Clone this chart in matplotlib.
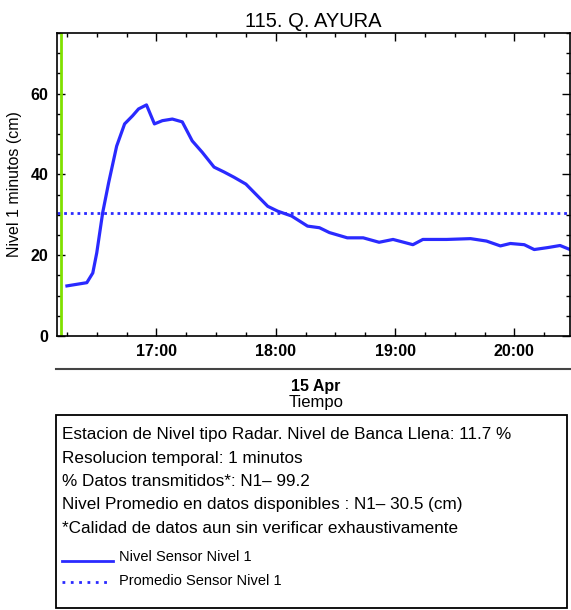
import matplotlib
matplotlib.use("Agg")
import matplotlib.pyplot as plt
import matplotlib.dates as mdates
from matplotlib.lines import Line2D
import pandas as pd

plt.rcParams['font.family'] = ['Liberation Sans', 'DejaVu Sans']

# data (15 Apr, local time)
times = ["16:15", "16:25", "16:28", "16:30", "16:33", "16:36", "16:40", "16:44",
         "16:48", "16:51", "16:55", "16:59", "17:03", "17:08", "17:13", "17:18",
         "17:23", "17:29", "17:34", "17:39", "17:45", "17:51", "17:56", "18:01",
         "18:08", "18:16", "18:22", "18:27", "18:36", "18:44", "18:52", "18:59",
         "19:09", "19:14", "19:26", "19:38", "19:46", "19:53", "19:58", "20:05",
         "20:10", "20:17", "20:23", "20:28"]
nivel = [12.4, 13.2, 15.6, 20.6, 30.6, 38.0, 47.0, 52.5,
         54.5, 56.2, 57.2, 52.5, 53.3, 53.7, 53.0, 48.3,
         45.5, 41.8, 40.6, 39.3, 37.6, 34.6, 32.1, 30.9,
         29.7, 27.2, 26.8, 25.6, 24.3, 24.3, 23.2, 23.9,
         22.6, 23.9, 23.9, 24.1, 23.5, 22.3, 22.9, 22.6,
         21.4, 21.9, 22.4, 21.4]
promedio = 30.5
inicio_evento = "16:12"
x_min, x_max = "16:10", "20:28"

day = "2024-04-15 "
t = pd.to_datetime([day + s for s in times])

W, H = 571, 610
fig = plt.figure(figsize=(W / 100, H / 100), dpi=100)
ax = fig.add_axes([57 / W, 1 - 336 / H, 513 / W, 303 / H])

ax.axvline(pd.Timestamp(day + inicio_evento), color='#80e000', lw=2)
ax.plot(t, nivel, color='#2a2aff', lw=2.3)
ax.axhline(promedio, color='#2a2aff', lw=2, ls=(0, (1, 1.4)))

ax.set_xlim(pd.Timestamp(day + x_min), pd.Timestamp(day + x_max))
ax.set_ylim(0, 75)
ax.xaxis.set_major_locator(mdates.HourLocator())
ax.xaxis.set_minor_locator(mdates.MinuteLocator(byminute=[0, 15, 30, 45]))
ax.xaxis.set_major_formatter(mdates.DateFormatter('%H:%M'))
ax.set_yticks([0, 20, 40, 60])
ax.set_yticks(range(0, 76, 5), minor=True)
ax.tick_params(which='both', direction='in', top=True, right=True, labelsize=11.5)
ax.tick_params(which='major', length=6, width=1, pad=6)
ax.tick_params(which='minor', length=3, width=1)
for lbl in ax.get_xticklabels() + ax.get_yticklabels():
    lbl.set_fontweight('bold')
for s in ax.spines.values():
    s.set_linewidth(1.2)

ax.set_title("115. Q. AYURA", fontsize=14.5, pad=4)
ax.set_ylabel("Nivel 1 minutos (cm)", fontsize=11.5, labelpad=6)

# separator and date label under the axis
fig.add_artist(Line2D([56 / W, 1.0], [1 - 369 / H] * 2, color='#444444', lw=1.5))
fig.text(316 / W, 1 - 386 / H, "15 Apr", ha='center', va='center',
         fontsize=11.5, fontweight='bold')
fig.text(316 / W, 1 - 402 / H, "Tiempo", ha='center', va='center', fontsize=12)

# info box
box = plt.Rectangle((56 / W, 1 - 608 / H), 511 / W, 193 / H, transform=fig.transFigure,
                    fill=False, edgecolor='black', lw=1.3)
fig.add_artist(box)
info = ["Estacion de Nivel tipo Radar. Nivel de Banca Llena: 11.7 %",
        "Resolucion temporal: 1 minutos",
        "% Datos transmitidos*: N1\u2013 99.2",
        "Nivel Promedio en datos disponibles : N1\u2013 30.5 (cm)",
        "*Calidad de datos aun sin verificar exhaustivamente"]
for i, line in enumerate(info):
    fig.text(62 / W, 1 - (435 + 23.3 * i) / H, line, ha='left', va='center', fontsize=12.3)

fig.add_artist(Line2D([62 / W, 113 / W], [1 - 561 / H] * 2, color='#2a2aff', lw=2))
fig.text(119 / W, 1 - 557 / H, "Nivel Sensor Nivel 1", ha='left', va='center', fontsize=10.5)
fig.add_artist(Line2D([62 / W, 112 / W], [1 - 582 / H] * 2, color='#2a2aff', lw=2,
                      ls=(0, (1, 2))))
fig.text(119 / W, 1 - 581 / H, "Promedio Sensor Nivel 1", ha='left', va='center', fontsize=10.5)

fig.savefig("out.png", dpi=100)
